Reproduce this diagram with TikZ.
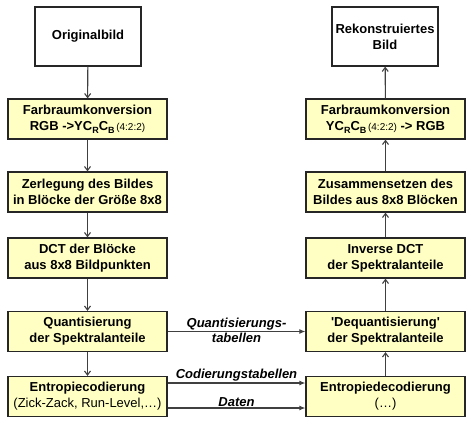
\documentclass[tikz,border=0pt]{standalone}
\usepackage{fontspec}
\setmainfont{Liberation Sans}
\usetikzlibrary{arrows.meta}
\definecolor{boxfill}{HTML}{FFFFC4}
\definecolor{linecol}{HTML}{404040}
\newcommand\lowsub[1]{\raisebox{-0.4ex}{\fontsize{9}{9}\selectfont #1}}
\newcommand\ratio{{\mdseries\fontsize{10}{10}\selectfont\,(4:2:2)}}
\begin{document}
\begin{tikzpicture}[x=1pt,y=-1pt,
  txt/.style={font=\fontsize{13}{16}\selectfont\bfseries, align=center},
  whitebox/.style={txt, draw=black!85, line width=1.2pt, fill=white, minimum width=106pt, minimum height=59pt, inner sep=0pt},
  procbox/.style={txt, draw=black!85, line width=1.2pt, fill=boxfill, minimum width=159pt, minimum height=40pt, inner sep=0pt},
  vflow/.style={draw=linecol, line width=1.1pt, -{Straight Barb[length=4pt,width=6pt]}},
  hflow/.style={draw=linecol, line width=1.1pt, -{Latex[length=6pt,width=5pt]}},
  lab/.style={font=\fontsize{13}{15}\selectfont\bfseries\itshape, align=center, inner sep=1pt}
]
\useasboundingbox (0,0) rectangle (471,424);
% left column
\node[whitebox] (orig) at (88,36.5) {Originalbild};
\node[procbox] (farb) at (87.5,119) {Farbraumkonversion\\RGB ->YC\lowsub{R}C\lowsub{B}\ratio};
\node[procbox] (zerl) at (87.5,192) {Zerlegung des Bildes\\in Blöcke der Größe 8x8};
\node[procbox] (dct) at (87.5,258) {DCT der Blöcke\\aus 8x8 Bildpunkten};
\node[procbox] (quant) at (87.5,331.5) {Quantisierung\\der Spektralanteile};
\node[procbox] (ent) at (87.5,396.5) {Entropiecodierung\\{\mdseries (Zick-Zack, Run-Level,…)}};
% right column
\node[whitebox] (rek) at (385,36.5) {Rekonstruiertes\\Bild};
\node[procbox] (rfarb) at (385.5,119) {Farbraumkonversion\\YC\lowsub{R}C\lowsub{B}\ratio{} -> RGB};
\node[procbox] (zus) at (385.5,192) {Zusammensetzen des\\Bildes aus 8x8 Blöcken};
\node[procbox] (idct) at (385.5,258) {Inverse DCT\\der Spektralanteile};
\node[procbox] (dequant) at (385.5,331.5) {\textquotesingle Dequantisierung\textquotesingle\\der Spektralanteile};
\node[procbox] (dec) at (385.5,396.5) {Entropiedecodierung\\{\mdseries (…)}};
% vertical flows
\draw[vflow] (orig) -- (farb);
\draw[vflow] (farb) -- (zerl);
\draw[vflow] (zerl) -- (dct);
\draw[vflow] (dct) -- (quant);
\draw[vflow] (quant) -- (ent);
\draw[vflow] (dec) -- (dequant);
\draw[vflow] (dequant) -- (idct);
\draw[vflow] (idct) -- (zus);
\draw[vflow] (zus) -- (rfarb);
\draw[vflow] (rfarb) -- (rek);
% horizontal flows
\draw[hflow] (quant.east) -- node[lab, above] {Quantisierungs-} node[lab, below] {tabellen} (dequant.west);
\draw[hflow] ([yshift=13.5pt]ent.east) -- node[lab, above] {Codierungstabellen} ([yshift=13.5pt]dec.west);
\draw[hflow] ([yshift=-11.5pt]ent.east) -- node[lab, above] {Daten} ([yshift=-11.5pt]dec.west);
\end{tikzpicture}
\end{document}
